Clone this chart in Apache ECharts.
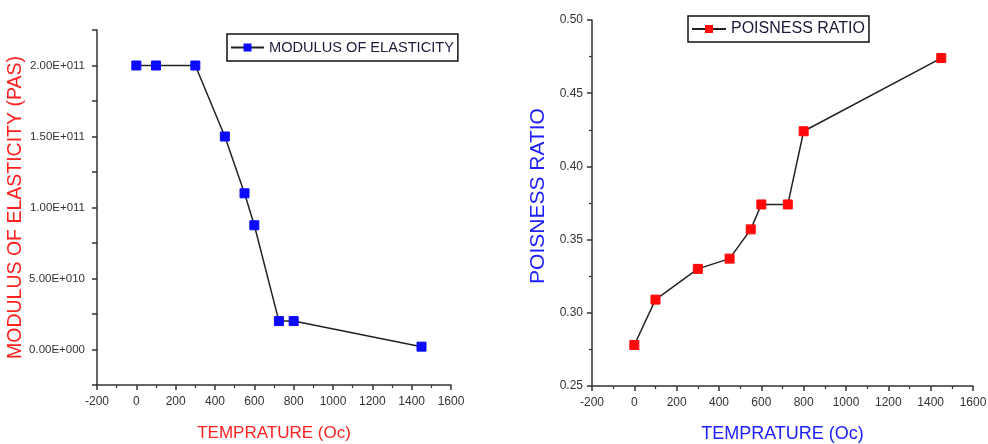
<!DOCTYPE html>
<html>
<head>
<meta charset="utf-8">
<script src="https://cdn.jsdelivr.net/npm/echarts@6/dist/echarts.min.js"></script>
<style>html,body{margin:0;padding:0;background:#fff}#c{width:988px;height:444px}</style>
</head>
<body>
<div id="c"></div>
<script>
// Data
var tempModulus = [0, 100, 300, 450, 550, 600, 725, 800, 1450];
var modulus = [2.0e11, 2.0e11, 2.0e11, 1.5e11, 1.1e11, 8.75e10, 2.0e10, 2.0e10, 2.0e9];
var tempPoisson = [0, 100, 300, 450, 550, 600, 725, 800, 1450];
var poisson = [0.278, 0.309, 0.330, 0.337, 0.357, 0.374, 0.374, 0.424, 0.474];
var xTicks = [-200, 0, 200, 400, 600, 800, 1000, 1200, 1400, 1600];
var modulusName = 'MODULUS OF ELASTICITY';
var poissonName = 'POISNESS RATIO';

var FONT = '"Liberation Sans", Arial, sans-serif';

function expLabel(v) {
  if (Math.abs(v % 5e10) > 1) return '';
  if (v === 0) return '0.00E+000';
  var e = Math.floor(Math.log10(Math.abs(v)));
  var m = v / Math.pow(10, e);
  return m.toFixed(2) + 'E' + (e >= 0 ? '+' : '-') + String(Math.abs(e)).padStart(3, '0');
}

var axisLineStyle = { color: '#333', width: 1.5 };

function xAxisCfg(gridIndex, nameColor, nameSize, gap) {
  return {
    type: 'value', gridIndex: gridIndex, min: -200, max: 1600, interval: 200,
    name: 'TEMPRATURE (Oc)', nameLocation: 'middle', nameGap: gap, nameMoveOverlap: false,
    nameTextStyle: { color: nameColor, fontSize: nameSize, fontFamily: FONT },
    axisLine: { show: true, onZero: false, lineStyle: axisLineStyle },
    axisTick: { show: true, inside: false, length: 5, lineStyle: axisLineStyle },
    minorTick: { show: true, splitNumber: 2, length: 3, lineStyle: { color: '#333', width: 1.2 } },
    axisLabel: { color: '#333', fontSize: 12, fontFamily: FONT, margin: 11,
      formatter: function (v) { return xTicks.indexOf(v) >= 0 ? String(v) : ''; } },
    splitLine: { show: false }
  };
}

var option = {
  backgroundColor: '#fff',
  animation: false,
  grid: [
    { left: 97, top: 30, right: 537, bottom: 59, containLabel: false, outerBoundsMode: 'none' },
    { left: 592, top: 20, right: 15, bottom: 58, containLabel: false, outerBoundsMode: 'none' }
  ],
  legend: [
    {
      data: [modulusName], left: 227, top: 34,
      padding: [6, 4, 6, 3], itemWidth: 33, itemHeight: 10, itemGap: 4,
      borderColor: '#111', borderWidth: 1.5,
      textStyle: { color: '#1a1a3a', fontSize: 14.6, fontFamily: FONT }
    },
    {
      data: [poissonName], left: 688, top: 16,
      padding: [5, 4, 5, 3], itemWidth: 34, itemHeight: 10,
      borderColor: '#111', borderWidth: 1.5,
      textStyle: { color: '#1a1a3a', fontSize: 16, fontFamily: FONT }
    }
  ],
  xAxis: [xAxisCfg(0, '#ff2020', 17, 40), xAxisCfg(1, '#2020ff', 18, 39)],
  yAxis: [
    {
      type: 'value', gridIndex: 0, min: -2.5e10, max: 2.25e11, interval: 2.5e10,
      name: 'MODULUS OF ELASTICITY (PAS)', nameLocation: 'middle', nameGap: 71, nameMoveOverlap: false,
      nameTextStyle: { color: '#ff2020', fontSize: 19.5, fontFamily: FONT },
      axisLine: { show: true, onZero: false, lineStyle: axisLineStyle },
      axisTick: { show: true, inside: false, length: 5, lineStyle: axisLineStyle },
      axisLabel: { color: '#333', fontSize: 11.5, fontFamily: FONT, margin: 12, formatter: expLabel },
      splitLine: { show: false }
    },
    {
      type: 'value', gridIndex: 1, min: 0.25, max: 0.50, interval: 0.05,
      name: 'POISNESS RATIO', nameLocation: 'middle', nameGap: 43, nameMoveOverlap: false,
      nameTextStyle: { color: '#2020ff', fontSize: 21, fontFamily: FONT, padding: [0, 0, 0, 14] },
      axisLine: { show: true, onZero: false, lineStyle: axisLineStyle },
      axisTick: { show: true, inside: false, length: 5, lineStyle: axisLineStyle },
      minorTick: { show: true, splitNumber: 2, length: 3, lineStyle: { color: '#333', width: 1.2 } },
      axisLabel: { color: '#333', fontSize: 12, fontFamily: FONT, margin: 9,
        formatter: function (v) { return v.toFixed(2); } },
      splitLine: { show: false }
    }
  ],
  series: [
    {
      name: modulusName, type: 'line', xAxisIndex: 0, yAxisIndex: 0,
      data: tempModulus.map(function (t, i) { return [t, modulus[i]]; }),
      symbol: 'rect', symbolSize: 9, showAllSymbol: true,
      lineStyle: { color: '#222', width: 1.5 },
      itemStyle: { color: '#0a0aff', borderColor: '#0a0aff' }
    },
    {
      name: poissonName, type: 'line', xAxisIndex: 1, yAxisIndex: 1,
      data: tempPoisson.map(function (t, i) { return [t, poisson[i]]; }),
      symbol: 'rect', symbolSize: 9, showAllSymbol: true,
      lineStyle: { color: '#222', width: 1.5 },
      itemStyle: { color: '#ff0a0a', borderColor: '#ff0a0a' }
    }
  ]
};

var chart = echarts.init(document.getElementById('c'), null, { renderer: 'canvas' });
chart.setOption(option);
</script>
</body>
</html>
